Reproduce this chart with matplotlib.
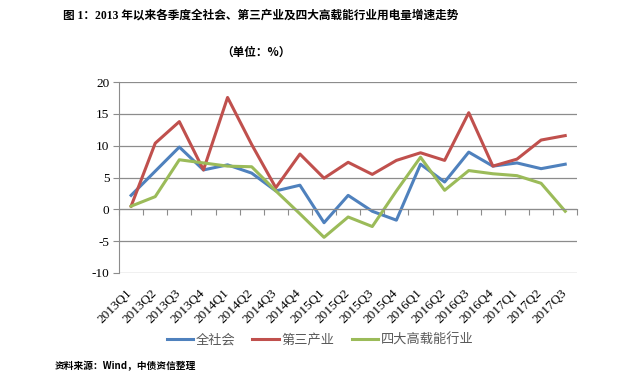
import matplotlib
matplotlib.use("Agg")
import matplotlib.pyplot as plt
import matplotlib.transforms as mtransforms

plt.rcParams['font.family'] = ['Liberation Serif', 'Noto Sans CJK SC', 'DejaVu Sans']

quarters = ['2013Q1', '2013Q2', '2013Q3', '2013Q4', '2014Q1', '2014Q2', '2014Q3',
            '2014Q4', '2015Q1', '2015Q2', '2015Q3', '2015Q4', '2016Q1', '2016Q2',
            '2016Q3', '2016Q4', '2017Q1', '2017Q2', '2017Q3']
whole_society = [2.2, 6.0, 9.8, 6.2, 7.0, 5.7, 2.9, 3.8, -2.1, 2.2, -0.3, -1.7,
                 7.1, 4.3, 9.0, 6.8, 7.3, 6.4, 7.1]
tertiary = [0.5, 10.4, 13.8, 6.2, 17.6, 10.2, 3.4, 8.7, 4.9, 7.4, 5.5, 7.7,
            8.9, 7.7, 15.2, 6.8, 7.9, 10.9, 11.6]
energy_intensive = [0.5, 2.0, 7.8, 7.3, 6.8, 6.7, 2.9, -0.7, -4.4, -1.2, -2.7, 2.9,
                    8.2, 3.0, 6.1, 5.6, 5.3, 4.1, -0.3]

fig = plt.figure(figsize=(6.4, 3.77), dpi=100)
ax = fig.add_axes([0.186, 0.276, 0.716, 0.506])

x = list(range(len(quarters)))
ax.plot(x, whole_society, color='#4F81BD', lw=2.2, label='全社会')
ax.plot(x, tertiary, color='#C0504D', lw=2.2, label='第三产业')
ax.plot(x, energy_intensive, color='#9BBB59', lw=2.2, label='四大高载能行业')

ax.set_xlim(-0.5, len(quarters) - 0.5)
ax.set_ylim(-10, 20)
ax.set_yticks([-10, -5, 0, 5, 10, 15, 20])
ax.set_yticklabels(['-10', '-5', '0', '5', '10', '15', '20'], fontsize=9.5)
ax.yaxis.grid(True, color='#8c8c8c', lw=0.9)
ax.set_axisbelow(True)
ax.tick_params(axis='y', length=4, color='#8c8c8c', pad=3)

for s in ['top', 'right']:
    ax.spines[s].set_visible(False)
ax.spines['left'].set_color('#8c8c8c')
ax.spines['bottom'].set_position(('data', 0))
ax.spines['bottom'].set_color('#8c8c8c')

ax.set_xticks([i - 0.5 for i in range(len(quarters) + 1)])
ax.set_xticklabels([])
ax.tick_params(axis='x', length=4, color='#8c8c8c', direction='out')

trans = mtransforms.blended_transform_factory(ax.transData, ax.transAxes)
for i, q in enumerate(quarters):
    ax.text(i - 0.2, -0.075, q, transform=trans, rotation=45, ha='right', va='top',
            fontsize=9.5, rotation_mode='anchor')

leg = fig.legend(loc='center', bbox_to_anchor=(0.5, 0.098), ncol=3, frameon=False,
                 prop={'family': 'Noto Sans CJK SC', 'size': 9.5}, handlelength=2.0,
                 columnspacing=1.3, handletextpad=0.2)
for t in leg.get_texts():
    t.set_color('#595959')

fig.text(0.408, 0.96, '图 1：2013 年以来各季度全社会、第三产业及四大高载能行业用电量增速走势',
         ha='center', va='center', fontsize=8.4, fontweight='bold',
         family=['Liberation Serif', 'Noto Sans CJK SC'])
fig.text(0.40, 0.862, '（单位：%）', ha='center', va='center', fontsize=8.4,
         fontweight='bold', family=['Noto Sans CJK SC'])
fig.text(0.085, 0.028, '资料来源：Wind，中债资信整理', ha='left', va='center', fontsize=7,
         fontweight='bold', family=['Noto Sans CJK SC'])

fig.savefig('out.png', dpi=100)
